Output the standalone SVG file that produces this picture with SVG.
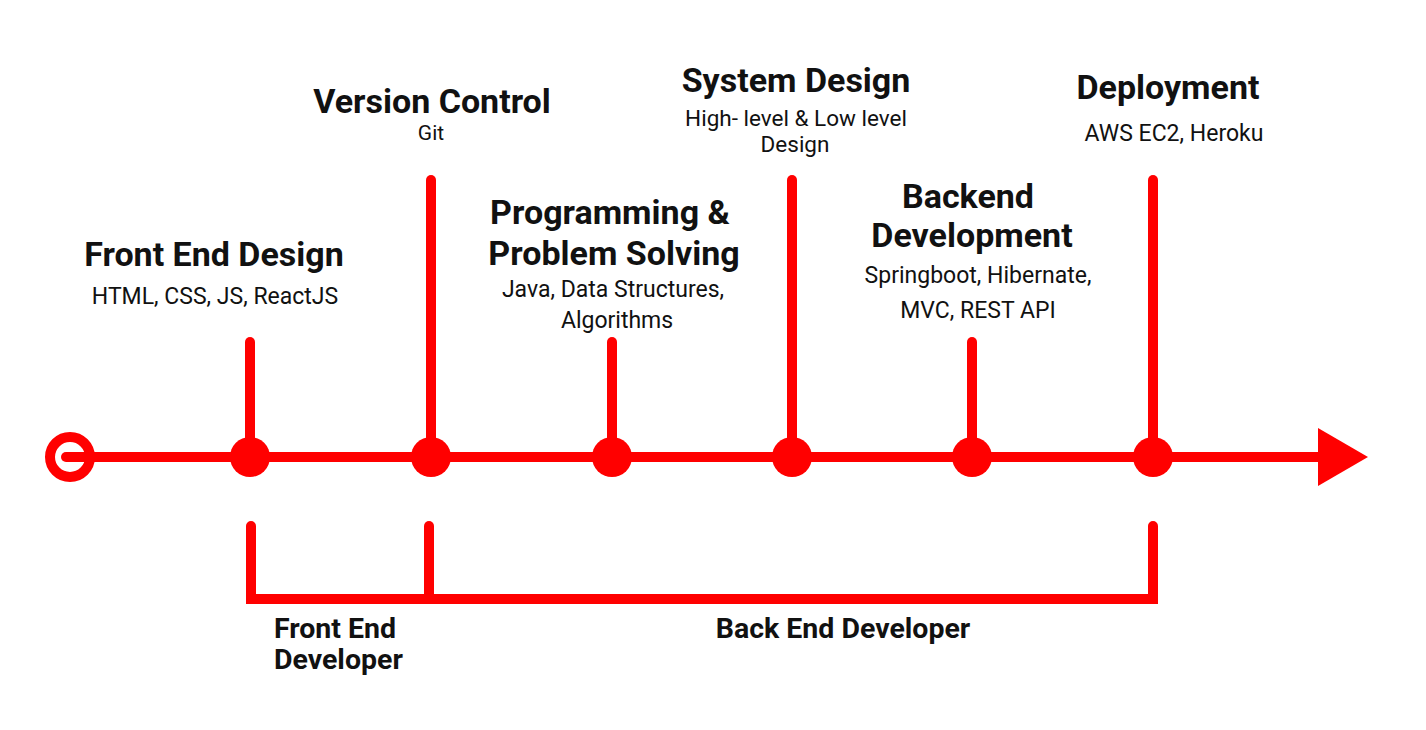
<svg xmlns="http://www.w3.org/2000/svg" width="1426" height="730" viewBox="0 0 1426 730">
<style>
.h{font-family:Roboto,"Liberation Sans",sans-serif;font-weight:bold;font-size:34px;fill:#111;text-anchor:middle}
.s{font-family:Roboto,"Liberation Sans",sans-serif;font-size:23px;fill:#111;text-anchor:middle}
.b{font-family:Roboto,"Liberation Sans",sans-serif;font-weight:bold;font-size:28.5px;fill:#111}
.ln{stroke:#ff0000;stroke-width:10;fill:none;stroke-linecap:round}
.dot{fill:#ff0000}
</style>
<rect width="1426" height="730" fill="#fff"/>
<g id="connectors">
<line class="ln" x1="66" y1="457" x2="1320" y2="457" stroke-linecap="butt"/>
<polygon class="dot" points="1318,428 1368,457 1318,486"/>
<circle cx="70" cy="457" r="20" fill="none" stroke="#ff0000" stroke-width="10"/>
<line class="ln" x1="250" y1="342" x2="250" y2="457"/>
<line class="ln" x1="431" y1="180" x2="431" y2="457"/>
<line class="ln" x1="612" y1="342" x2="612" y2="457"/>
<line class="ln" x1="792" y1="180" x2="792" y2="457"/>
<line class="ln" x1="972" y1="342" x2="972" y2="457"/>
<line class="ln" x1="1153" y1="180" x2="1153" y2="457"/>
<polyline class="ln" points="251,526 251,599 1153,599 1153,526" stroke-linejoin="miter"/>
<line class="ln" x1="429" y1="526" x2="429" y2="599"/>
</g>
<g id="node-frontend-design">
<circle class="dot" cx="250" cy="457" r="20"/>
<text class="h" x="214" y="266">Front End Design</text>
<text class="s" x="215" y="304">HTML, CSS, JS, ReactJS</text>
</g>
<g id="node-version-control">
<circle class="dot" cx="431" cy="457" r="20"/>
<text class="h" x="432" y="113">Version Control</text>
<text class="s" x="431" y="140" style="font-size:21px">Git</text>
</g>
<g id="node-programming">
<circle class="dot" cx="612" cy="457" r="20"/>
<text class="h" x="610" y="224">Programming &amp;</text>
<text class="h" x="614" y="265">Problem Solving</text>
<text class="s" x="613" y="297">Java, Data Structures,</text>
<text class="s" x="617" y="328">Algorithms</text>
</g>
<g id="node-system-design">
<circle class="dot" cx="792" cy="457" r="20"/>
<text class="h" x="796" y="92">System Design</text>
<text class="s" x="796" y="126" style="font-size:22.5px">High- level &amp; Low level</text>
<text class="s" x="795" y="152" style="font-size:22.5px">Design</text>
</g>
<g id="node-backend">
<circle class="dot" cx="972" cy="457" r="20"/>
<text class="h" x="968" y="208">Backend</text>
<text class="h" x="972" y="247">Development</text>
<text class="s" x="978" y="283">Springboot, Hibernate,</text>
<text class="s" x="978" y="318">MVC, REST API</text>
</g>
<g id="node-deployment">
<circle class="dot" cx="1153" cy="457" r="20"/>
<text class="h" x="1168" y="99">Deployment</text>
<text class="s" x="1174" y="141">AWS EC2, Heroku</text>
</g>
<g id="labels">
<text class="b" x="274" y="638">Front End</text>
<text class="b" x="274" y="669">Developer</text>
<text class="b" x="843" y="638" text-anchor="middle">Back End Developer</text>
</g>
</svg>
